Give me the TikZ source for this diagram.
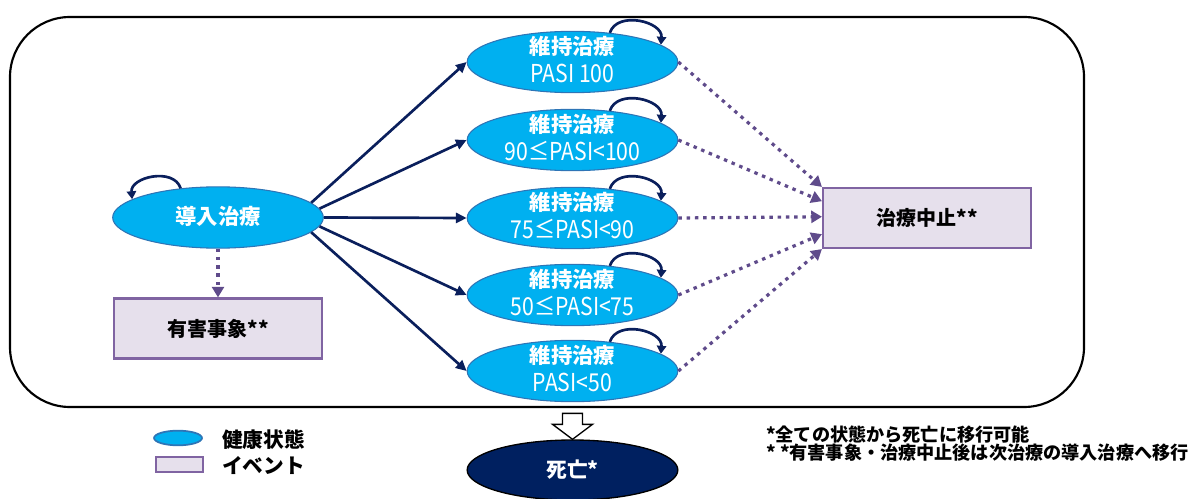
\documentclass[tikz,border=0pt]{standalone}
\usepackage{fontspec}
\setmainfont{Noto Sans CJK JP}
\newfontfamily\latn{Noto Sans CJK JP}[FakeStretch=0.86]
\newcommand\pasi[1]{{\latn\mdseries\fontsize{18.5}{21}\selectfont #1}}
\usetikzlibrary{shapes.geometric,arrows.meta,calc}
\definecolor{statefill}{HTML}{00B0F0}
\definecolor{stateborder}{HTML}{2E75B6}
\definecolor{navy}{HTML}{0A1F5C}
\definecolor{purp}{HTML}{5F4B8B}
\definecolor{evfill}{HTML}{E6E0EC}
\definecolor{evborder}{HTML}{8064A2}
\definecolor{deathfill}{HTML}{002060}
\begin{document}
\begin{tikzpicture}[x=0.75pt,y=0.75pt,
  state/.style={ellipse, draw=stateborder, line width=0.8pt, fill=statefill, minimum width=158pt, minimum height=46pt, inner sep=0pt},
  stxt/.style={text=white, font=\bfseries\fontsize{16}{21}\selectfont, align=center, inner sep=0pt},
  event/.style={rectangle, draw=evborder, line width=1.6pt, fill=evfill, minimum width=156pt, minimum height=45pt, inner sep=0pt, font=\bfseries\fontsize{15}{18}\selectfont},
  trans/.style={draw=navy, line width=2pt, -{Triangle[length=8pt,width=7.5pt]}},
  evarrow/.style={draw=purp, line width=2.4pt, dash pattern=on 2.6pt off 3.6pt, -{Triangle[length=8pt,width=9pt]}},
  selfloop/.style={draw=navy, line width=2pt, -{Triangle[length=6pt,width=7pt]}},
  frame/.style={draw=black, line width=1.6pt, rounded corners=45pt, minimum width=805.5pt, minimum height=292.5pt, inner sep=0pt},
  legtxt/.style={anchor=west, inner sep=0pt, font=\bfseries\fontsize{15.5}{15.5}\selectfont},
]
\path[use as bounding box] (0,0) rectangle (1193,-499);

\node[frame] (frame) at (547,-212) {};

% states
\node[state] (ind) at (218,-217.5) {};
\node[stxt] (indt) at (218,-216) {導入治療};

\node[state] (m1) at (572.5,-62) {};
\node[state] (m2) at (572.5,-140) {};
\node[state] (m3) at (572.5,-218) {};
\node[state] (m4) at (572.5,-295) {};
\node[state] (m5) at (572.5,-371) {};
\node[stxt] (m1t) at ([yshift=1.5pt]m1.center) {維持治療\\\pasi{PASI 100}};
\node[stxt] (m2t) at ([yshift=1.5pt]m2.center) {維持治療\\\pasi{90≤PASI<100}};
\node[stxt] (m3t) at ([yshift=1.5pt]m3.center) {維持治療\\\pasi{75≤PASI<90}};
\node[stxt] (m4t) at ([yshift=1.5pt]m4.center) {維持治療\\\pasi{50≤PASI<75}};
\node[stxt] (m5t) at ([yshift=1.5pt]m5.center) {維持治療\\\pasi{PASI<50}};

% events
\node[event] (ae) at (218,-328.5) {有害事象**};
\node[event] (stop) at (927,-218) {治療中止**};

% death
\node[ellipse, draw=black, line width=1pt, fill=deathfill, minimum width=158pt, minimum height=45pt, inner sep=0pt, text=white, font=\bfseries\fontsize{15.5}{18}\selectfont] (death) at (572.5,-470) {死亡*};
\draw[line width=1pt, fill=white] (death.north) -- ++(-20,15) -- ++(10,0) -- ++(0,11) -- ++(20,0) -- ++(0,-11) -- ++(10,0) -- cycle;

% transitions
\draw[trans] (ind.9) -- (m1.west);
\draw[trans] (ind.5) -- (m2.west);
\draw[trans] (ind.east) -- (m3.west);
\draw[trans] (ind.-5) -- (m4.west);
\draw[trans] (ind.-9) -- (m5.west);

\draw[evarrow] (ind.south) -- (ae.north);
\draw[evarrow] (m1.east) -- ($(stop.north west)!0!(stop.south west)$);
\draw[evarrow] (m2.east) -- ($(stop.north west)!0.23!(stop.south west)$);
\draw[evarrow] (m3.east) -- ($(stop.north west)!0.48!(stop.south west)$);
\draw[evarrow] (m4.east) -- ($(stop.north west)!0.76!(stop.south west)$);
\draw[evarrow] (m5.east) -- ($(stop.north west)!1!(stop.south west)$);

% self loops
\foreach \m in {m1,m2,m3,m4,m5}{
  \draw[selfloop] (\m.38) to[out=72,in=85,looseness=1.15] (\m.11);
}
\draw[selfloop] (ind.142) to[out=108,in=95,looseness=1.15] (ind.168);

% legend
\node[ellipse, draw=stateborder, line width=1.3pt, fill=statefill, minimum width=36pt, minimum height=11pt, inner sep=0pt] (lg1) at (178,-438) {};
\node[rectangle, draw=evborder, line width=1.6pt, fill=evfill, minimum width=35.5pt, minimum height=11.5pt, inner sep=0pt] (lg2) at (179.5,-464.5) {};
\node[legtxt] (lt1) at (222,-440) {健康状態};
\node[legtxt] (lt2) at (222,-465) {イベント};

% notes
\node[anchor=west, align=left, inner sep=0pt, font=\bfseries\fontsize{13.6}{13}\selectfont] (note) at (766,-443.5) {*全ての状態から死亡に移行可能\\* *有害事象・治療中止後は次治療の導入治療へ移行};
\end{tikzpicture}
\end{document}
